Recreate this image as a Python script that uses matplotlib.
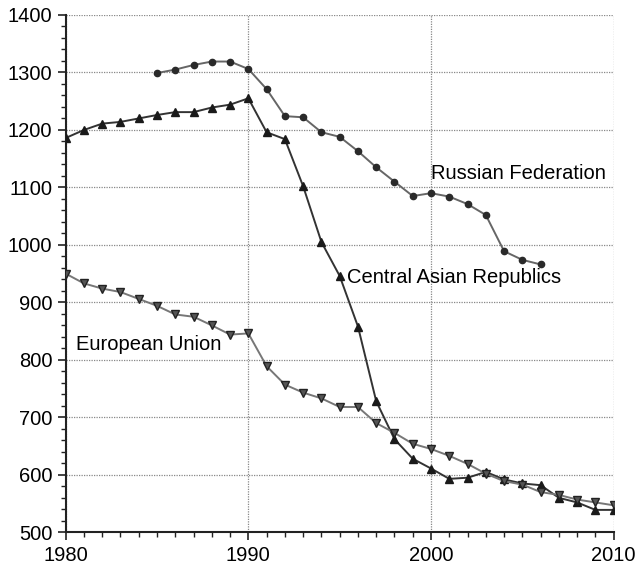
import matplotlib
matplotlib.use("Agg")
import matplotlib.pyplot as plt
from matplotlib.ticker import MultipleLocator

plt.rcParams['font.family'] = ['Liberation Sans', 'DejaVu Sans']

years_ru = list(range(1985, 2007))
russia = [1299, 1305, 1313, 1319, 1319, 1306, 1271, 1224, 1222, 1196, 1188,
          1163, 1135, 1110, 1085, 1090, 1084, 1071, 1052, 989, 974, 966]

years = list(range(1980, 2011))
central_asia = [1186, 1200, 1211, 1214, 1220, 1226, 1231, 1231, 1239, 1244, 1255,
                1196, 1184, 1102, 1005, 946, 858, 728, 662, 628, 611,
                593, 595, 605, 592, 585, 582, 560, 552, 539, 539]
eu = [950, 933, 924, 918, 906, 894, 879, 875, 860, 844, 846,
      789, 757, 743, 733, 718, 718, 690, 673, 654, 645,
      633, 619, 602, 589, 583, 570, 565, 557, 552, 547]

fig = plt.figure(figsize=(6.39, 5.63), dpi=100)
ax = fig.add_axes([0.1028, 0.0545, 0.8576, 0.9189])

ax.plot(years_ru, russia, color='#666666', lw=1.4, marker='o', ms=4.5,
        mfc='#2a2a2a', mec='#2a2a2a', zorder=3)
ax.plot(years, central_asia, color='#333333', lw=1.4, marker='^', ms=5.5,
        mfc='#1a1a1a', mec='#1a1a1a', zorder=3)
ax.plot(years, eu, color='#777777', lw=1.4, marker='v', ms=5.5,
        mfc='#555555', mec='#222222', zorder=3)

ax.text(2000, 1124, 'Russian Federation', fontsize=14.5, va='center', ha='left')
ax.text(1995.38, 944, 'Central Asian Republics', fontsize=14.5, va='center', ha='left')
ax.text(1980.57, 827, 'European Union', fontsize=14.5, va='center', ha='left')

ax.set_xlim(1980, 2010)
ax.set_ylim(500, 1400)
ax.xaxis.set_major_locator(MultipleLocator(10))
ax.xaxis.set_minor_locator(MultipleLocator(1))
ax.yaxis.set_major_locator(MultipleLocator(100))
ax.yaxis.set_minor_locator(MultipleLocator(20))

ax.grid(True, which='major', color='#888888', linestyle=(0, (1, 1)), lw=0.9)
for s in ['top', 'right']:
    ax.spines[s].set_visible(False)
for s in ['left', 'bottom']:
    ax.spines[s].set_linewidth(1.5)
    ax.spines[s].set_color('#222222')

ax.tick_params(which='major', length=6, width=1.2, labelsize=14.5, color='#222222')
ax.tick_params(which='minor', length=3.5, width=1.0, color='#222222')

fig.savefig('out.png', dpi=100)
